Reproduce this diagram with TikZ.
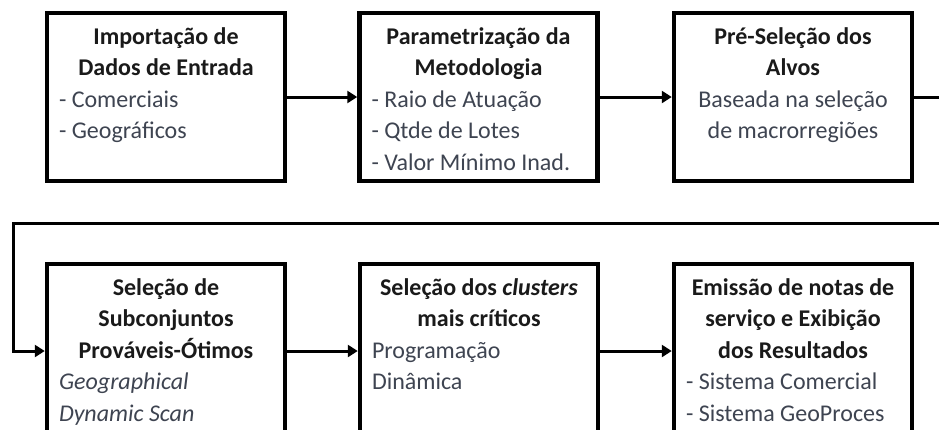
\documentclass[tikz,border=0pt]{standalone}
\usepackage{fontspec}
\setmainfont{Carlito}
\usetikzlibrary{arrows.meta}
\definecolor{titlecol}{HTML}{1A1A1A}
\definecolor{bodycol}{HTML}{3E4451}
\newcommand\boxtext[2]{\begin{minipage}[c][#1][t]{214pt}\setlength\parindent{0pt}\setlength\parskip{0pt}#2\end{minipage}}
\newcommand\ttl[1]{{\centering\bfseries\color{titlecol}\strut #1\par}}
\begin{document}
\begin{tikzpicture}[x=1pt,y=-1pt,
  box/.style={draw=black, line width=4.5pt, fill=white, inner sep=0pt,
    minimum width=238pt, minimum height=168pt,
    font=\fontsize{24}{31.6}\selectfont, text=bodycol},
  lowbox/.style={box, minimum height=174pt},
  conn/.style={line width=3pt, -{Triangle[length=10pt,width=12pt]}}
]
\useasboundingbox (0,0) rectangle (939,429);
\clip (0,0) rectangle (939,429);

\node[box] (b1) at (166,97) {\boxtext{150pt}{\ttl{Importação de\\Dados de Entrada}\raggedright
- Comerciais\\- Geográficos}};
\node[box] (b2) at (478.5,97) {\boxtext{150pt}{\ttl{Parametrização da\\Metodologia}\raggedright
- Raio de Atuação\\- Qtde de Lotes\\- Valor Mínimo Inad.}};
\node[box] (b3) at (793,97) {\boxtext{150pt}{\ttl{Pré-Seleção dos\\Alvos}\centering
Baseada na seleção\\de macrorregiões\par}};

\node[lowbox] (b4) at (166,351) {\boxtext{156pt}{\ttl{Seleção de\\Subconjuntos\\Prováveis-Ótimos}\raggedright\itshape
Geographical\\Dynamic Scan}};
\node[lowbox] (b5) at (479,351) {\boxtext{156pt}{\ttl{Seleção dos \textit{clusters}\\mais críticos}\raggedright
Programação\\Dinâmica}};
\node[lowbox] (b6) at (793,351) {\boxtext{156pt}{\ttl{Emissão de notas de\\serviço e Exibição\\dos Resultados}\raggedright
- Sistema Comercial\\- Sistema GeoProces}};

\coordinate (loopR) at (960,97);
\coordinate (loopL) at (13,223);

\draw[conn] (b1.east) -- (b2.west);
\draw[conn] (b2.east) -- (b3.west);
\draw[conn] (b3.east) -- (loopR) |- (loopL) |- (b4.west);
\draw[conn] (b4.east) -- (b5.west);
\draw[conn] (b5.east) -- (b6.west);
\end{tikzpicture}
\end{document}
